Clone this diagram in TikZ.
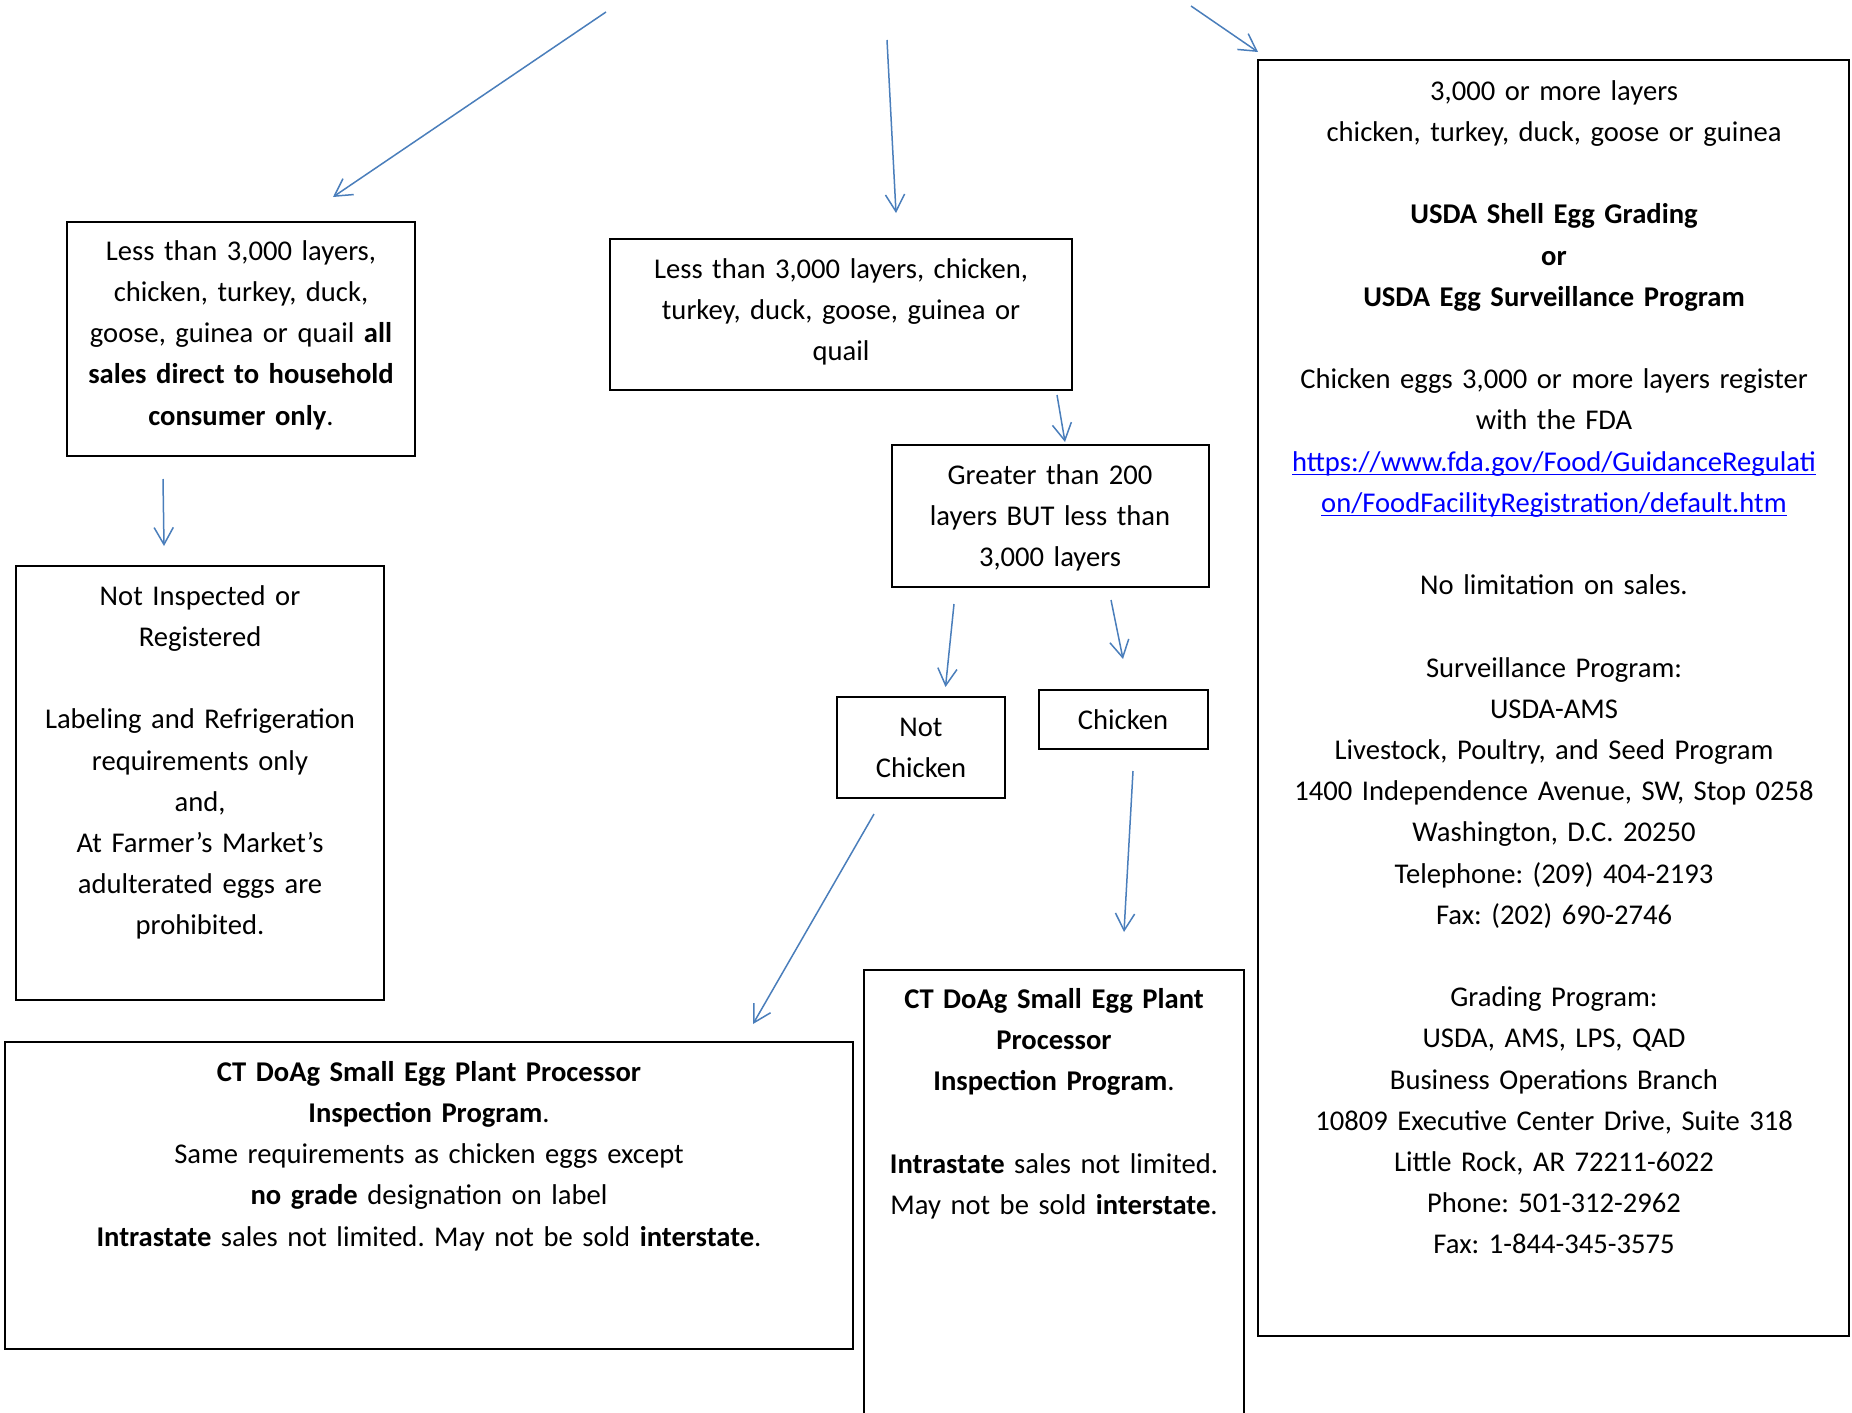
\documentclass[tikz,border=0pt]{standalone}
\usepackage{fontspec}
\setmainfont{Carlito}
\usetikzlibrary{arrows.meta,fit}
\definecolor{arrowblue}{RGB}{74,126,187}
\definecolor{linkblue}{RGB}{0,0,255}
\newcommand{\linkul}[1]{\setbox0\hbox{#1}\rlap{\rule[-2pt]{\wd0}{0.7pt}}\box0}
\frenchspacing
\begin{document}
\begin{tikzpicture}[x={(0.5pt,0)},y={(0,-0.5pt)},
  box/.style={draw=black,line width=1pt,inner sep=0pt,rectangle},
  txt/.style={anchor=north,inner sep=0pt,align=center,font=\fontsize{14.3pt}{20.6pt}\selectfont\frenchspacing},
  conn/.style={draw=arrowblue,line width=0.75pt,-{Straight Barb[length=8.5pt,width=9.6pt]}}]
\clip (0,0) rectangle (1852,1413);
% boxes
\node[box,fit={(67,222)(415,456)}] (A) {};
\node[box,fit={(610,239)(1072,390)}] (B) {};
\node[box,fit={(892,445)(1209,587)}] (C) {};
\node[box,fit={(16,566)(384,1000)}] (D) {};
\node[box,fit={(837,697)(1005,798)}] (E) {};
\node[box,fit={(1039,690)(1208,749)}] (F) {};
\node[box,fit={(5,1042)(853,1349)}] (G) {};
\node[box,fit={(864,970)(1244,1440)}] (H) {};
\node[box,fit={(1258,60)(1849,1336)}] (I) {};
% texts
\node[txt,text width=174pt] (At) at (241,231) {\strut Less than 3,000 layers,\\ chicken, turkey, duck,\\ goose, guinea or quail \textbf{all}\\ \textbf{sales direct to household}\\ \textbf{consumer only}.};
\node[txt,text width=230pt] (Bt) at (841,249) {\strut Less than 3,000 layers, chicken,\\ turkey, duck, goose, guinea or\\ quail};
\node[txt,text width=158pt] (Ct) at (1050,455) {\strut Greater than 200\\ layers BUT less than\\ 3,000 layers};
\node[txt,text width=184pt] (Dt) at (200,576) {\strut Not Inspected or\\ Registered\\[\baselineskip] Labeling and Refrigeration\\ requirements only\\ and,\\ At Farmer’s Market’s\\ adulterated eggs are\\ prohibited.};
\node[txt,text width=84pt] (Et) at (921,707) {\strut Not\\ Chicken};
\node[txt,text width=84pt] (Ft) at (1123,700) {\strut Chicken};
\node[txt,text width=424pt] (Gt) at (429,1052) {\strut \textbf{CT DoAg Small Egg Plant Processor}\\ \textbf{Inspection Program}.\\ Same requirements as chicken eggs except\\ \textbf{no grade} designation on label\\ \textbf{Intrastate} sales not limited. May not be sold \textbf{interstate}.};
\node[txt,text width=190pt] (Ht) at (1054,979) {\strut \textbf{CT DoAg Small Egg Plant}\\ \textbf{Processor}\\ \textbf{Inspection Program}.\\[\baselineskip] \textbf{Intrastate} sales not limited.\\ May not be sold \textbf{interstate}.};
\node[txt,text width=295pt] (It) at (1554,71) {\strut 3,000 or more layers\\ chicken, turkey, duck, goose or guinea\\[\baselineskip] \textbf{USDA Shell Egg Grading}\\ \textbf{or}\\ \textbf{USDA Egg Surveillance Program}\\[\baselineskip] Chicken eggs 3,000 or more layers register\\ with the FDA\\ \textcolor{linkblue}{\linkul{https://www.fda.gov/Food/GuidanceRegulati}}\\ \textcolor{linkblue}{\linkul{on/FoodFacilityRegistration/default.htm}}\\[\baselineskip] No limitation on sales.\\[\baselineskip] Surveillance Program:\\ USDA-AMS\\ Livestock, Poultry, and Seed Program\\ 1400 Independence Avenue, SW, Stop 0258\\ Washington, D.C. 20250\\ Telephone: (209) 404-2193\\ Fax: (202) 690-2746\\[\baselineskip] Grading Program:\\ USDA, AMS, LPS, QAD\\ Business Operations Branch\\ 10809 Executive Center Drive, Suite 318\\ Little Rock, AR 72211-6022\\ Phone: 501-312-2962\\ Fax: 1-844-345-3575};
% connector end points
\coordinate (s1) at (606,12);   \coordinate (e1) at (333,197);
\coordinate (s2) at (887,40);   \coordinate (e2) at (896,213);
\coordinate (s3) at (1191,6);   \coordinate (e3) at (1258,52);
\coordinate (s4) at (1057,395); \coordinate (e4) at (1065,442);
\coordinate (s5) at (163,479);  \coordinate (e5) at (164,546);
\coordinate (s6) at (954,604);  \coordinate (e6) at (945.5,687);
\coordinate (s7) at (1111,600); \coordinate (e7) at (1123,659);
\coordinate (s8) at (1133,771); \coordinate (e8) at (1124,932);
\coordinate (s9) at (874,814);  \coordinate (e9) at (753,1024);
\draw[conn] (s1) -- (e1);
\draw[conn] (s2) -- (e2);
\draw[conn] (s3) -- (e3);
\draw[conn] (s4) -- (e4);
\draw[conn] (s5) -- (e5);
\draw[conn] (s6) -- (e6);
\draw[conn] (s7) -- (e7);
\draw[conn] (s8) -- (e8);
\draw[conn] (s9) -- (e9);
\end{tikzpicture}
\end{document}
